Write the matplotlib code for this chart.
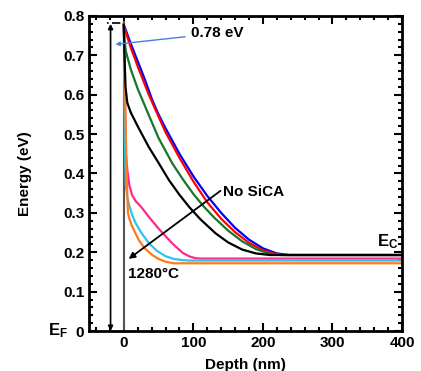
import matplotlib
matplotlib.use("Agg")
import matplotlib.pyplot as plt
from matplotlib.ticker import MultipleLocator

plt.rcParams['font.family'] = ['Liberation Sans', 'DejaVu Sans']
plt.rcParams['font.weight'] = 'bold'
plt.rcParams['mathtext.fontset'] = 'custom'
plt.rcParams['mathtext.rm'] = 'Liberation Sans:bold'
plt.rcParams['mathtext.bf'] = 'Liberation Sans:bold'

# band profiles: depth (nm), energy (eV)
blue_x = [0, 10, 20, 30, 41, 50, 60, 80, 100, 120, 140, 160, 180, 200, 220, 238, 400]
blue_y = [0.778, 0.73, 0.685, 0.64, 0.586, 0.55, 0.515, 0.45, 0.393, 0.343, 0.3, 0.262, 0.232, 0.21, 0.197, 0.193, 0.193]

red_x = [0, 10, 20, 30, 36, 46, 60, 80, 100, 120, 140, 160, 180, 200, 215, 230, 400]
red_y = [0.775, 0.72, 0.672, 0.627, 0.6, 0.56, 0.505, 0.44, 0.38, 0.327, 0.285, 0.251, 0.224, 0.205, 0.197, 0.193, 0.193]

green_x = [0, 1, 3, 10, 20, 27, 36, 50, 70, 85, 100, 115, 130, 150, 170, 190, 210, 225, 400]
green_y = [0.778, 0.74, 0.71, 0.665, 0.615, 0.586, 0.548, 0.49, 0.425, 0.385, 0.348, 0.316, 0.288, 0.255, 0.228, 0.208, 0.196, 0.193, 0.193]

black_x = [0, 1, 2.5, 5, 10, 20, 36, 50, 65, 80, 94, 110, 132, 150, 170, 190, 210, 400]
black_y = [0.778, 0.7, 0.62, 0.58, 0.555, 0.52, 0.467, 0.427, 0.383, 0.346, 0.315, 0.284, 0.248, 0.225, 0.207, 0.197, 0.193, 0.193]

pink_x = [0, 1, 2, 3, 5, 8, 12, 17, 25, 36, 50, 70, 85, 95, 103, 110, 400]
pink_y = [0.778, 0.7, 0.55, 0.45, 0.41, 0.37, 0.345, 0.33, 0.315, 0.29, 0.26, 0.222, 0.198, 0.189, 0.185, 0.184, 0.184]

cyan_x = [0, 1, 2, 3, 5, 7.6, 12, 17, 25, 36, 48, 60, 72, 84, 95, 400]
cyan_y = [0.778, 0.6, 0.45, 0.37, 0.34, 0.32, 0.295, 0.274, 0.25, 0.223, 0.203, 0.19, 0.183, 0.18, 0.179, 0.179]

orange_x = [0, 2, 4, 6, 8, 11, 15, 21.5, 30, 41, 50, 60, 72, 400]
orange_y = [0.778, 0.6, 0.4, 0.3, 0.285, 0.27, 0.255, 0.231, 0.21, 0.193, 0.183, 0.176, 0.172, 0.172]

barrier = 0.78

fig = plt.figure(figsize=(4.21, 3.71), dpi=100)
ax = fig.add_axes([0.2114, 0.1078, 0.7436, 0.8491])

ax.plot([0, 0], [0, 0.785], color='#555555', lw=1.5)
ax.plot(blue_x, blue_y, color='#0000ff', lw=1.6)
ax.plot(red_x, red_y, color='#ff0000', lw=1.6)
ax.plot(green_x, green_y, color='#17762a', lw=1.6)
ax.plot(pink_x, pink_y, color='#ff2b8c', lw=1.6)
ax.plot(cyan_x, cyan_y, color='#2cc3ef', lw=1.6)
ax.plot(orange_x, orange_y, color='#ff7b1c', lw=1.6)
ax.plot(black_x, black_y, color='black', lw=1.6)

# barrier height double arrow
ax.annotate('', xy=(-19, barrier), xytext=(-19, 0),
            arrowprops=dict(arrowstyle='<|-|>', color='black', lw=1.2,
                            mutation_scale=7, shrinkA=0, shrinkB=0))
ax.plot([-24, -3], [0.782, 0.782], color='black', lw=1.2, ls=(0, (1, 2, 5, 2)))

ax.annotate('0.78 eV', xy=(-12, 0.728), xytext=(96, 0.756),
            fontsize=11, fontweight='bold', va='center',
            arrowprops=dict(arrowstyle='-|>', color='#4a7fd4', lw=1.0,
                            mutation_scale=6, shrinkA=2, shrinkB=0))

ax.annotate('', xy=(7, 0.183), xytext=(139, 0.356),
            arrowprops=dict(arrowstyle='-|>', color='black', lw=1.3,
                            mutation_scale=9, shrinkA=0, shrinkB=0))
ax.text(143, 0.352, 'No SiCA', fontsize=11, fontweight='bold', va='center')
ax.text(6, 0.145, '1280°C', fontsize=11, fontweight='bold', va='center')
ax.text(364, 0.226, r'$\mathbf{E_C}$', fontsize=12, va='center')

ax.set_xlim(-50, 400)
ax.set_ylim(0, 0.8)
ax.xaxis.set_major_locator(MultipleLocator(100))
ax.xaxis.set_minor_locator(MultipleLocator(20))
ax.yaxis.set_major_locator(MultipleLocator(0.1))
ax.yaxis.set_minor_locator(MultipleLocator(0.02))
ax.set_yticks([0, 0.1, 0.2, 0.3, 0.4, 0.5, 0.6, 0.7, 0.8])
ax.set_yticklabels(['0', '0.1', '0.2', '0.3', '0.4', '0.5', '0.6', '0.7', '0.8'])
ax.tick_params(which='both', direction='in', top=True, right=True, width=1.5,
               labelsize=11)
ax.tick_params(which='major', length=6)
ax.tick_params(which='minor', length=3)
for s in ax.spines.values():
    s.set_linewidth(2)
for lab in ax.get_xticklabels() + ax.get_yticklabels():
    lab.set_fontweight('bold')

fig.text(58 / 421, 1 - 331 / 371, r'$\mathbf{E_F}$', fontsize=12,
         ha='center', va='center')
ax.set_ylabel('Energy (eV)', fontsize=11, fontweight='bold', labelpad=22)
ax.set_xlabel('Depth (nm)', fontsize=11, fontweight='bold', labelpad=6)

fig.savefig('out.png', dpi=100)
